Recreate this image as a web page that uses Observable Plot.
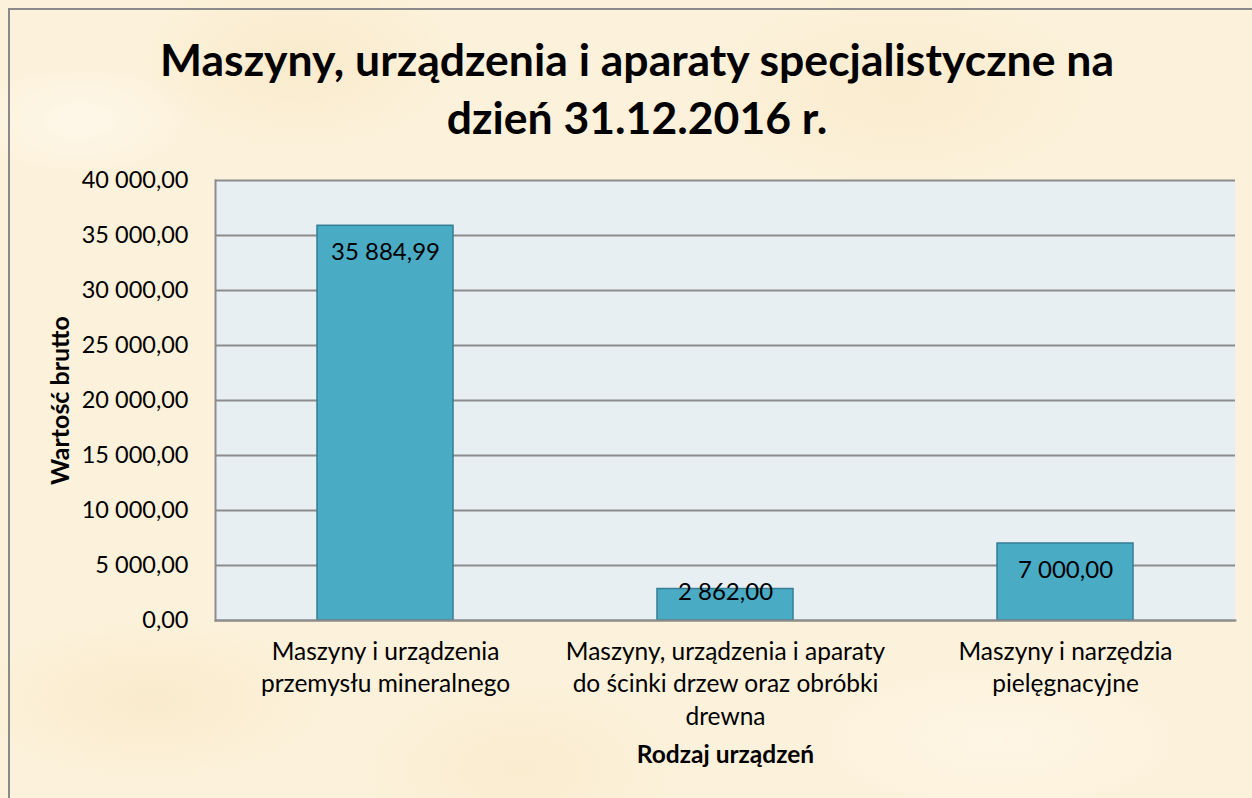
<!DOCTYPE html>
<html>
<head>
<meta charset="utf-8">
<script src="https://cdn.jsdelivr.net/npm/d3@7"></script>
<script src="https://cdn.jsdelivr.net/npm/@observablehq/plot@0.6"></script>
<style>
  html, body { margin: 0; padding: 0; }
  body { width: 1252px; height: 798px; overflow: hidden; position: relative; font-family: Lato, "Open Sans", sans-serif;
    background-color: #fcf1da;
    background-image:
      radial-gradient(ellipse 120px 60px at 80px 120px, rgba(255,250,240,0.7), rgba(255,250,240,0)),
      radial-gradient(ellipse 160px 90px at 300px 60px, rgba(245,228,190,0.5), rgba(245,228,190,0)),
      radial-gradient(ellipse 200px 100px at 900px 90px, rgba(246,230,195,0.5), rgba(246,230,195,0)),
      radial-gradient(ellipse 180px 80px at 150px 700px, rgba(246,228,190,0.5), rgba(246,228,190,0)),
      radial-gradient(ellipse 220px 90px at 1000px 740px, rgba(255,248,235,0.6), rgba(255,248,235,0)),
      radial-gradient(ellipse 160px 90px at 520px 770px, rgba(246,230,196,0.5), rgba(246,230,196,0));
  }
  #frame { position: absolute; left: 8px; top: 8px; width: 1300px; height: 900px; border-left: 2px solid #8a8a8a; border-top: 2px solid #8a8a8a; }
  #title { position: absolute; left: 22px; right: 0; top: 30px; text-align: center; font-weight: 700; font-size: 44.5px; line-height: 58px; color: #000; }
  #chart { position: absolute; left: 0; top: 150px; }
</style>
</head>
<body>
<div id="frame"></div>
<div id="title">Maszyny, urządzenia i aparaty specjalistyczne na<br>dzień 31.12.2016 r.</div>
<div id="chart"></div>
<script>
const categories = [
  "Maszyny i urządzenia przemysłu mineralnego",
  "Maszyny, urządzenia i aparaty do ścinki drzew oraz obróbki drewna",
  "Maszyny i narzędzia pielęgnacyjne"
];
const values = [35884.99, 2862.00, 7000.00];
const tickLabels = [
  "Maszyny i urządzenia\nprzemysłu mineralnego",
  "Maszyny, urządzenia i aparaty\ndo ścinki drzew oraz obróbki\ndrewna",
  "Maszyny i narzędzia\npielęgnacyjne"
];
const yTicks = [0, 5000, 10000, 15000, 20000, 25000, 30000, 35000, 40000];
const yTitle = "Wartość brutto";
const xTitle = "Rodzaj urządzeń";

const pl = d3.formatLocale({decimal: ",", thousands: "\u00a0", grouping: [3], currency: ["", ""]});
const fmt = pl.format(",.2f");
const fmtSp = v => fmt(v).replace(/\u00a0/g, " ");

const data = categories.map((c, i) => ({category: c, value: values[i], label: tickLabels[i]}));

const chart = Plot.plot({
  width: 1252,
  height: 648,
  marginTop: 30,
  marginBottom: 178,
  marginLeft: 215,
  marginRight: 17,
  style: {background: "transparent", fontFamily: "Lato, 'Open Sans', sans-serif", fontSize: "23px", color: "#000", overflow: "visible"},
  x: {domain: categories, paddingInner: 0.6, paddingOuter: 0.3, label: null},
  y: {domain: [0, 40000], label: null},
  marks: [
    Plot.frame({fill: "#e8eff3", stroke: null}),
    Plot.gridY(yTicks, {stroke: "#8c8c8c", strokeOpacity: 1, strokeWidth: 2}),
    Plot.barY(data, {x: "category", y: "value", fill: "#4aabc5", stroke: "#347e93", strokeWidth: 1.5}),
    Plot.frame({anchor: "left", stroke: "#8c8c8c", strokeWidth: 2}),
    Plot.frame({anchor: "bottom", stroke: "#8c8c8c", strokeWidth: 2}),
    Plot.axisY(yTicks, {tickSize: 0, tickPadding: 27, tickFormat: fmtSp, fontSize: 23.5, fill: "#000", label: null}),
    Plot.axisX({tickSize: 0, tickPadding: 16, tickFormat: d => tickLabels[categories.indexOf(d)], fontSize: 24.5, lineHeight: 1.33, fill: "#000", label: null}),
    Plot.text(data, {x: "category", y: d => Math.max(d.value - 2455, 2545), text: d => fmtSp(d.value), fontSize: 24, fill: "#000"}),
    Plot.text([yTitle], {frameAnchor: "left", dx: -155, rotate: -90, textAnchor: "middle", text: d => d, fontSize: 25, fontWeight: "bold", fill: "#000"}),
    Plot.text([xTitle], {frameAnchor: "bottom", dy: 142, text: d => d, fontSize: 24.5, fontWeight: "bold", fill: "#000"})
  ]
});
document.getElementById("chart").appendChild(chart);
</script>
</body>
</html>
